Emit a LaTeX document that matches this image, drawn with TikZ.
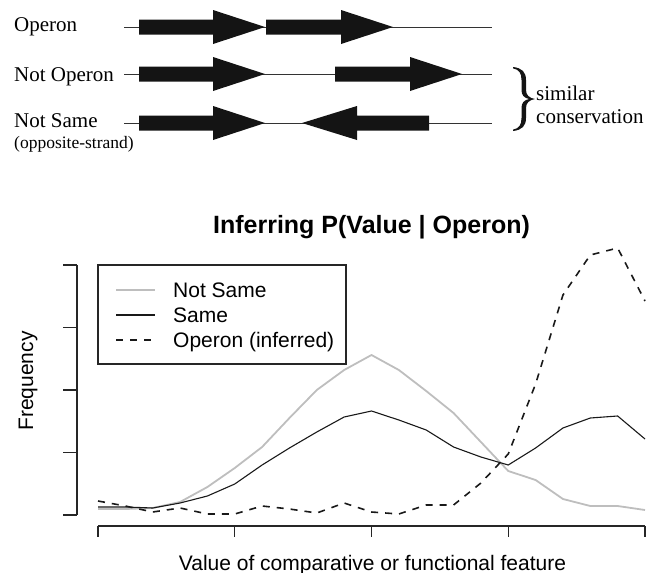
\documentclass[tikz,border=0pt]{standalone}
\usepackage{fontspec}
\setmainfont{Liberation Serif}
\setsansfont{Liberation Sans}
\definecolor{ngray}{RGB}{190,190,190}
\begin{document}
\begin{tikzpicture}[x=1pt,y=-1pt,
  gene/.style={fill=black!92, draw=none},
  dna/.style={line width=1pt, draw=black!80},
  rowlbl/.style={font=\fontsize{21}{24}\selectfont, anchor=base west, inner sep=0pt},
  sublbl/.style={font=\fontsize{17.5}{20}\selectfont, anchor=base west, inner sep=0pt},
  sanslbl/.style={font=\sffamily\fontsize{21}{24}\selectfont, inner sep=0pt},
  titlelbl/.style={font=\sffamily\bfseries\fontsize{25}{28}\selectfont, inner sep=0pt, anchor=base},
  axisline/.style={line width=1.2pt, draw=black!85},
  nsame/.style={line width=1.8pt, draw=ngray},
  same/.style={line width=1.1pt, draw=black!90},
  oper/.style={line width=1.6pt, draw=black!90, dash pattern=on 7pt off 7pt},
  legbox/.style={draw=black!85, line width=1.2pt, minimum width=248pt, minimum height=99pt, inner sep=0pt}
]
\useasboundingbox (0,0) rectangle (657,573);

% ---------------- top: gene arrangements ----------------
\node[rowlbl] (lOp) at (14,31) {Operon};
\node[rowlbl] (lNo) at (14,81) {Not Operon};
\node[rowlbl] (lNs) at (14,127) {Not Same};
\node[sublbl] (lOs) at (14,148) {(opposite-strand)};

\coordinate (r1a) at (124,27);  \coordinate (r1b) at (492,27);
\coordinate (r2a) at (124,74);  \coordinate (r2b) at (492,74);
\coordinate (r3a) at (124,123); \coordinate (r3b) at (492,123);
\draw[dna] (r1a) -- (r1b);
\draw[dna] (r2a) -- (r2b);
\draw[dna] (r3a) -- (r3b);

% row 1
\fill[gene] (139,19.5) -- (213,19.5) -- (213,10) -- (265,27) -- (213,44) -- (213,34.5) -- (139,34.5) -- cycle;
\fill[gene] (266,19.5) -- (341,19.5) -- (341,10) -- (393,27) -- (341,44) -- (341,34.5) -- (266,34.5) -- cycle;
% row 2
\fill[gene] (139,66.5) -- (213,66.5) -- (213,57) -- (265,74) -- (213,91) -- (213,81.5) -- (139,81.5) -- cycle;
\fill[gene] (335,66.5) -- (410,66.5) -- (410,57) -- (462,74) -- (410,91) -- (410,81.5) -- (335,81.5) -- cycle;
% row 3
\fill[gene] (139,115.5) -- (213,115.5) -- (213,106) -- (265,123) -- (213,140) -- (213,130.5) -- (139,130.5) -- cycle;
\fill[gene] (429,115.5) -- (357,115.5) -- (357,106) -- (302,123) -- (357,140) -- (357,130.5) -- (429,130.5) -- cycle;

% brace
\fill[black!92] (513,67) .. controls (522,68) and (526,72) .. (526,80) -- (526,90)
  .. controls (526,95) and (529,98) .. (535,99)
  .. controls (529,100) and (526,103) .. (526,108) -- (526,118)
  .. controls (526,126) and (522,130) .. (513,131) -- (513,129.6)
  .. controls (519,128.5) and (521.5,125) .. (521.5,118) -- (521.5,108)
  .. controls (521.5,103) and (524,100) .. (529,99)
  .. controls (524,98) and (521.5,95) .. (521.5,90) -- (521.5,80)
  .. controls (521.5,73) and (519,69.5) .. (513,68.4) -- cycle;
\node[rowlbl] (sim) at (536,100) {similar};
\node[rowlbl] (cons) at (536,123) {conservation};

% ---------------- bottom: plot ----------------
\node[titlelbl] (title) at (371.5,233) {Inferring P(Value | Operon)};

% y axis
\coordinate (ya) at (77,265); \coordinate (yb) at (77,515);
\draw[axisline] (ya) -- (yb);
\foreach \yy in {265,327.5,390,452.5,515} \draw[axisline] (63,\yy) -- (77,\yy);
% x axis
\coordinate (xa) at (98,526); \coordinate (xb) at (645,526);
\draw[axisline] (xa) -- (xb);
\foreach \xx in {98,234.75,371.5,508.25,645} \draw[axisline] (\xx,526) -- (\xx,537);

\node[sanslbl, rotate=90, anchor=base] (ylab) at (33,381) {Frequency};
\node[sanslbl, anchor=base] (xlab) at (372.5,570) {Value of comparative or functional feature};

% curves
\draw[nsame, line join=round] plot coordinates {(98,509) (125.35,509) (152.7,508) (180.05,502) (207.4,487) (234.75,468) (262.1,447) (289.45,418) (316.8,390) (344.15,370) (371.5,355) (398.85,370) (426.2,391) (453.55,413) (480.9,442) (508.25,471) (535.6,480) (562.95,499) (590.3,506) (617.65,506) (645,510)};
\draw[same, line join=round] plot coordinates {(98,507) (125.35,507) (152.7,508) (180.05,503) (207.4,496) (234.75,484) (262.1,465) (289.45,448) (316.8,432) (344.15,417) (371.5,411) (398.85,420) (426.2,430) (453.55,447) (480.9,457) (508.25,465) (535.6,448) (562.95,428) (590.3,418) (617.65,416) (645,439)};
\draw[oper, line join=round] plot coordinates {(98,501) (125.35,506) (152.7,512) (180.05,508) (207.4,514) (234.75,514) (262.1,506) (289.45,509) (316.8,513) (344.15,503) (371.5,512) (398.85,514) (426.2,505) (453.55,505) (480.9,483) (508.25,454) (535.6,384) (562.95,295) (590.3,255) (617.65,248) (645,301)};

% legend
\node[legbox] (legend) at (222,314.5) {};
\coordinate (l1a) at (116,290); \coordinate (l1b) at (155,290);
\coordinate (l2a) at (116,315); \coordinate (l2b) at (155,315);
\coordinate (l3a) at (116,340); \coordinate (l3b) at (155,340);
\draw[nsame] (l1a) -- (l1b);
\draw[same] (l2a) -- (l2b);
\draw[oper] (l3a) -- (l3b);
\node[sanslbl, anchor=base west] (t1) at (173,297) {Not Same};
\node[sanslbl, anchor=base west] (t2) at (173,322) {Same};
\node[sanslbl, anchor=base west] (t3) at (173,347) {Operon (inferred)};
\end{tikzpicture}
\end{document}
